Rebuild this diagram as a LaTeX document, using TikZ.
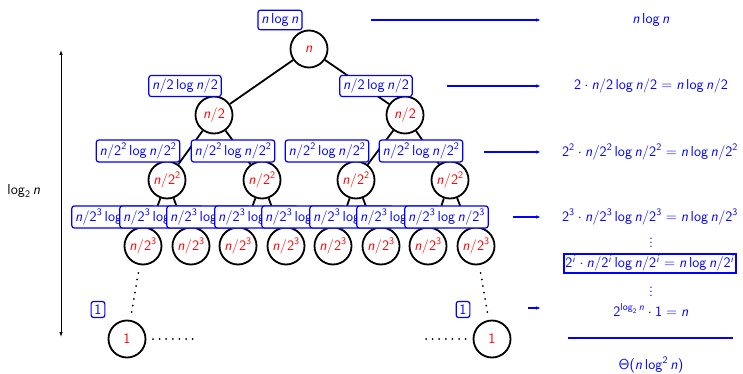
\documentclass[tikz,border=0pt]{standalone}
\usetikzlibrary{arrows.meta,calc}
\DeclareMathVersion{sans}
\SetSymbolFont{operators}{sans}{OT1}{cmss}{m}{n}
\SetSymbolFont{letters}{sans}{OT1}{cmss}{m}{sl}
\mathcode`\/="002F
\begin{document}
\begin{tikzpicture}[x=1pt,y=-1pt,
  every node/.style={font=\fontsize{14.4}{17}\selectfont\mathversion{sans}},
  vtx/.style={circle,draw,line width=1.8pt,fill=white,minimum size=37pt,inner sep=0pt,text=red},
  lab/.style={draw=blue,rounded corners=2.5pt,line width=1.2pt,fill=white,text=blue},
  edge/.style={line width=1.8pt},
  dotline/.style={line width=2pt,line cap=round,dash pattern=on 0pt off 6.6pt},
  sumarr/.style={blue,line width=1.2pt,-{Latex[length=5pt,width=3.5pt]}},
  sumtxt/.style={text=blue},
  vd/.style={text=blue,inner sep=0pt},
  sumbox/.style={draw=blue,line width=1.8pt,text=blue,inner sep=1.5pt}]
\useasboundingbox (0,0) rectangle (743,374);
% tree vertices
\node[vtx] (r) at (309,49) {$n$};
\node[vtx] (a1) at (214,115) {$n/2$};
\node[vtx] (a2) at (405,115) {$n/2$};
\node[vtx] (b1) at (167,180) {$n/2^2$};
\node[vtx] (b2) at (262,180) {$n/2^2$};
\node[vtx] (b3) at (356,180) {$n/2^2$};
\node[vtx] (b4) at (450,180) {$n/2^2$};
\node[vtx] (c1) at (143,246) {$n/2^3$};
\node[vtx] (c2) at (191,246) {$n/2^3$};
\node[vtx] (c3) at (238,246) {$n/2^3$};
\node[vtx] (c4) at (286,246) {$n/2^3$};
\node[vtx] (c5) at (333,246) {$n/2^3$};
\node[vtx] (c6) at (381,246) {$n/2^3$};
\node[vtx] (c7) at (428,246) {$n/2^3$};
\node[vtx] (c8) at (476,246) {$n/2^3$};
\node[vtx] (d1) at (127,339) {$1$};
\node[vtx] (d2) at (492,339) {$1$};
% edges
\draw[edge] (r) -- (a1);
\draw[edge] (r) -- (a2);
\draw[edge] (a1) -- (b1);
\draw[edge] (a1) -- (b2);
\draw[edge] (a2) -- (b3);
\draw[edge] (a2) -- (b4);
\draw[edge] (b1) -- (c1);
\draw[edge] (b1) -- (c2);
\draw[edge] (b2) -- (c3);
\draw[edge] (b2) -- (c4);
\draw[edge] (b3) -- (c5);
\draw[edge] (b3) -- (c6);
\draw[edge] (b4) -- (c7);
\draw[edge] (b4) -- (c8);
\draw[dotline,shorten <=8pt,shorten >=7pt] (c1) -- (d1);
\draw[dotline,shorten <=8pt,shorten >=7pt] (c8) -- (d2);
\coordinate (hl1) at (153,339);
\coordinate (hl2) at (194,339);
\coordinate (hr1) at (426,339);
\coordinate (hr2) at (467,339);
\draw[dotline] (hl1) -- (hl2);
\draw[dotline] (hr1) -- (hr2);
% cost labels
\node[lab] (lr) at ($(r)+(-29,-29)$) {$n\log n$};
\node[lab] (la1) at ($(a1)+(-29,-29)$) {$n/2\log n/2$};
\node[lab] (la2) at ($(a2)+(-29,-29)$) {$n/2\log n/2$};
\node[lab] (lb1) at ($(b1)+(-29,-29)$) {$n/2^2\log n/2^2$};
\node[lab] (lb2) at ($(b2)+(-29,-29)$) {$n/2^2\log n/2^2$};
\node[lab] (lb3) at ($(b3)+(-29,-29)$) {$n/2^2\log n/2^2$};
\node[lab] (lb4) at ($(b4)+(-29,-29)$) {$n/2^2\log n/2^2$};
\node[lab] (lc1) at ($(c1)+(-29.5,-29)$) {$n/2^3\log n/2^3$};
\node[lab] (lc2) at ($(c2)+(-29.5,-29)$) {$n/2^3\log n/2^3$};
\node[lab] (lc3) at ($(c3)+(-29.5,-29)$) {$n/2^3\log n/2^3$};
\node[lab] (lc4) at ($(c4)+(-29.5,-29)$) {$n/2^3\log n/2^3$};
\node[lab] (lc5) at ($(c5)+(-29.5,-29)$) {$n/2^3\log n/2^3$};
\node[lab] (lc6) at ($(c6)+(-29.5,-29)$) {$n/2^3\log n/2^3$};
\node[lab] (lc7) at ($(c7)+(-29.5,-29)$) {$n/2^3\log n/2^3$};
\node[lab] (lc8) at ($(c8)+(-29.5,-29)$) {$n/2^3\log n/2^3$};
\node[lab] (ld1) at ($(d1)+(-29,-29.5)$) {$1$};
\node[lab] (ld2) at ($(d2)+(-29,-29.5)$) {$1$};
% height arrow
\coordinate (ht) at (61,50);
\coordinate (hb) at (61,337);
\draw[line width=0.8pt,{Latex[length=5pt,width=3.5pt]}-{Latex[length=5pt,width=3.5pt]}] (ht) -- (hb);
\node (h) at (24,191) {$\log_2 n$};
% level sums
\coordinate (s1) at (371,20); \coordinate (e1) at (541,20);
\coordinate (s2) at (447,86); \coordinate (e2) at (541,86);
\coordinate (s3) at (484,152); \coordinate (e3) at (541,152);
\coordinate (s4) at (513,217); \coordinate (e4) at (541,217);
\coordinate (s5) at (528,308); \coordinate (e5) at (541,308);
\draw[sumarr] (s1) -- (e1);
\draw[sumarr] (s2) -- (e2);
\draw[sumarr] (s3) -- (e3);
\draw[sumarr] (s4) -- (e4);
\draw[sumarr] (s5) -- (e5);
\node[sumtxt] (t1) at (651,20) {$n\log n$};
\node[sumtxt] (t2) at (651,86) {$2\cdot n/2\log n/2 = n\log n/2$};
\node[sumtxt] (t3) at (650,152) {$2^2\cdot n/2^2\log n/2^2 = n\log n/2^2$};
\node[sumtxt] (t4) at (650,217) {$2^3\cdot n/2^3\log n/2^3 = n\log n/2^3$};
\node[vd] (v1) at (651,240) {$\vdots$};
\node[sumbox] (t5) at (650,263.5) {$2^i\cdot n/2^i\log n/2^i = n\log n/2^i$};
\node[vd] (v2) at (651,289) {$\vdots$};
\node[sumtxt] (t6) at (651,310) {$2^{\log_2 n}\cdot 1 = n$};
\coordinate (ll) at (568,338); \coordinate (lr2) at (733,338);
\draw[blue,line width=1.2pt] (ll) -- (lr2);
\node[sumtxt] (t7) at (651,365) {$\Theta(n\log^2 n)$};
\end{tikzpicture}
\end{document}
